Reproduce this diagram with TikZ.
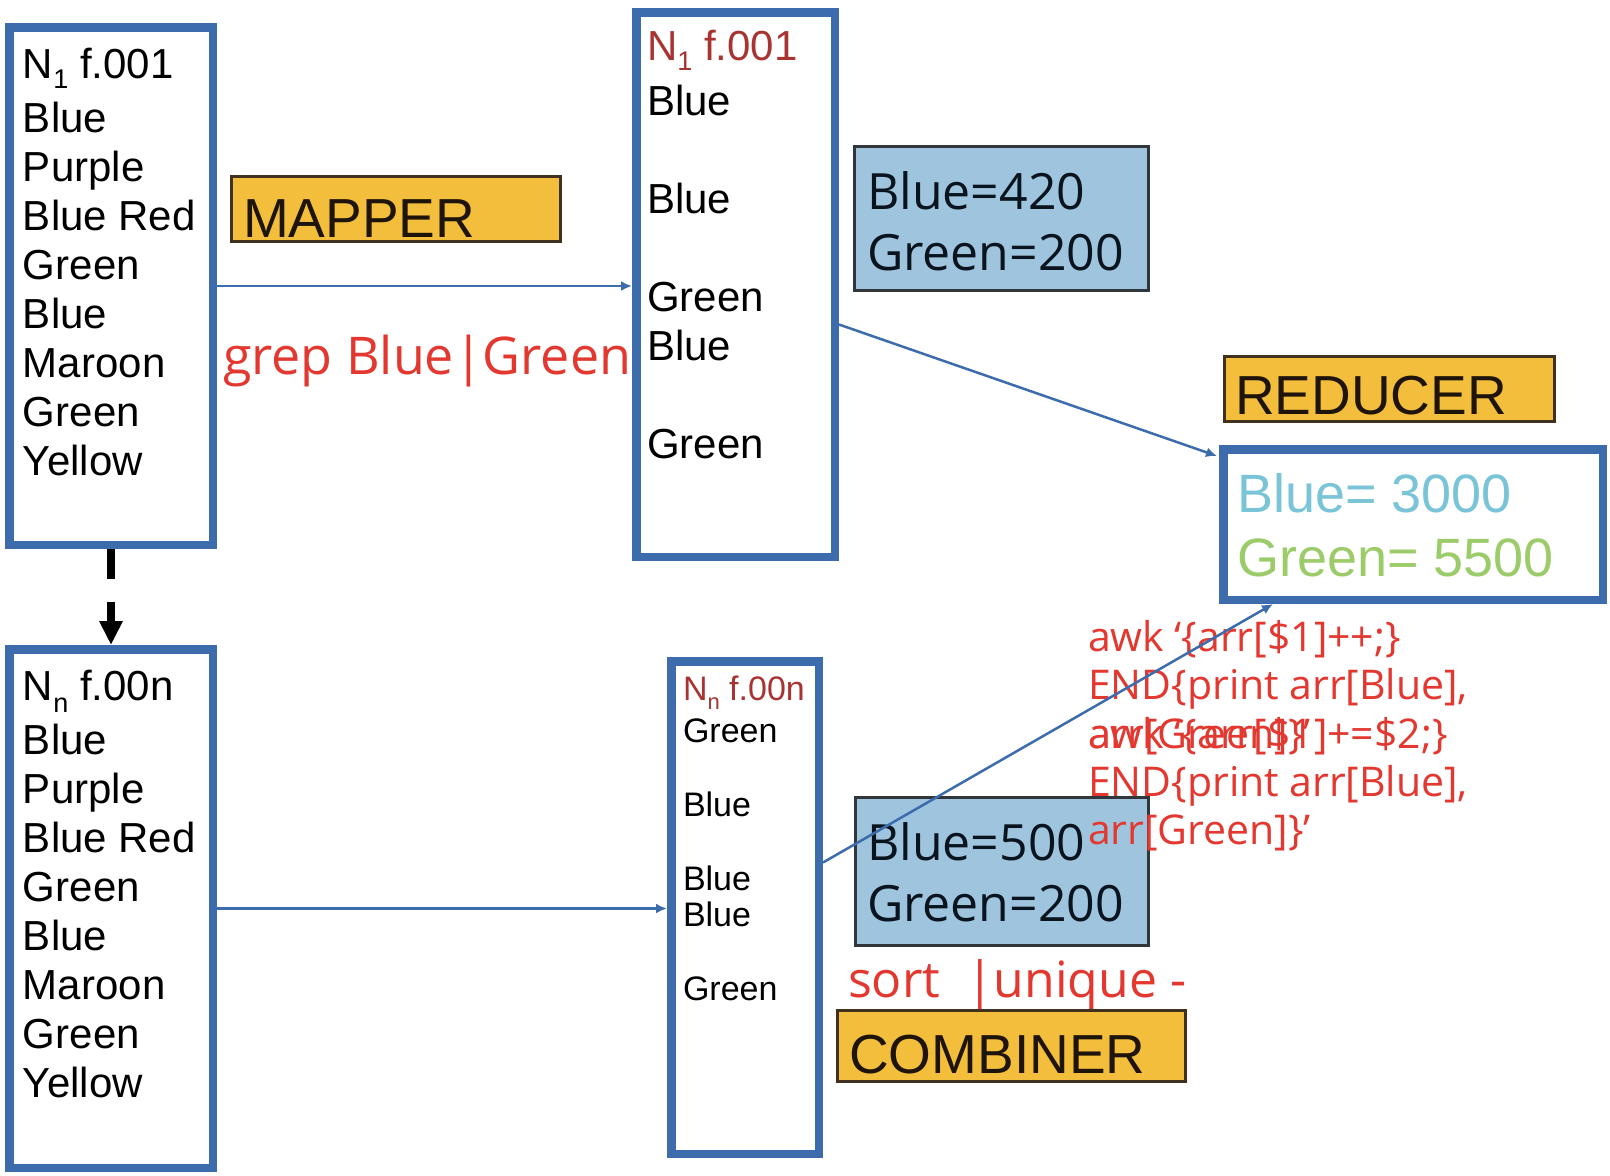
\documentclass[tikz,border=0pt]{standalone}
\usepackage{fontspec}
\setmainfont{Liberation Sans}
\newfontfamily\segoe{Open Sans}
\usetikzlibrary{arrows.meta,calc}

\definecolor{boxblue}{RGB}{60,108,172}
\definecolor{tagfill}{RGB}{242,190,60}
\definecolor{tagdraw}{RGB}{64,48,30}
\definecolor{tagtext}{RGB}{30,20,10}
\definecolor{sumfill}{RGB}{158,196,222}
\definecolor{sumdraw}{RGB}{48,54,60}
\definecolor{sumtext}{RGB}{10,20,30}
\definecolor{cmdred}{RGB}{226,56,48}
\definecolor{hdrred}{RGB}{168,52,50}
\definecolor{bluetxt}{RGB}{122,196,216}
\definecolor{greentxt}{RGB}{156,204,106}

% low, small node index after the N of a split name
\newcommand\nidx[3]{\raisebox{-#2pt}{\fontsize{#1}{#1}\selectfont #3}}

\begin{document}
\begin{tikzpicture}[x=1pt,y=-1pt,
  filebox/.style={draw=boxblue,line width=8.5pt,fill=white,rectangle,inner sep=0pt,outer sep=4.25pt},
  tagbox/.style={draw=tagdraw,line width=3pt,fill=tagfill,rectangle,inner sep=0pt,outer sep=1.5pt},
  sumbox/.style={draw=sumdraw,line width=3pt,fill=sumfill,rectangle,inner sep=0pt,outer sep=1.5pt},
  txt/.style={anchor=base west,inner sep=0pt,outer sep=0pt},
  listtxt/.style={txt,font=\fontsize{42}{49}\selectfont},
  smalltxt/.style={txt,font=\fontsize{34}{37}\selectfont},
  tagtxt/.style={txt,text=tagtext,font=\fontsize{55}{60}\selectfont},
  sumtxt/.style={txt,text=sumtext,font=\segoe\fontsize{50}{60}\selectfont},
  cmdtxt/.style={txt,text=cmdred,font=\segoe\fontsize{50}{60}\selectfont},
  awktxt/.style={txt,text=cmdred,font=\segoe\fontsize{41}{48}\selectfont},
  restxt/.style={txt,font=\fontsize{54}{64}\selectfont},
  flow/.style={draw=boxblue,line width=2.5pt,-{Latex[length=11pt,width=10pt]}}
]
\useasboundingbox (0,0) rectangle (1610,1176);

% command labels that sit under the boxes
\node[cmdtxt,font=\segoe\fontsize{52}{60}\selectfont] (grep) at (223,374) {grep Blue|Green};

% input splits and mapper outputs
\node[filebox,minimum width=203.5pt,minimum height=517.5pt] (A)  at (111,286) {};
\node[filebox,minimum width=203.5pt,minimum height=518.5pt] (A2) at (111,908.5) {};
\node[filebox,minimum width=198.5pt,minimum height=544.5pt] (B)  at (735.5,284.5) {};
\node[filebox,minimum width=147.5pt,minimum height=492.5pt] (C)  at (745,907.5) {};
\node[filebox,minimum width=379.5pt,minimum height=150.5pt] (R)  at (1413,524.5) {};

% stage labels
\node[tagbox,minimum width=329pt,minimum height=65pt] (map) at (396,209) {};
\node[tagbox,minimum width=330pt,minimum height=65pt] (red) at (1389.5,389) {};
\node[tagbox,minimum width=348pt,minimum height=71pt] (comb) at (1011.5,1046) {};
\node[tagtxt] (mapt)  at (243,237)  {MAPPER};
\node[tagtxt] (redt)  at (1235,414) {REDUCER};
\node[tagtxt] (combt) at (849,1073) {COMBINER};

% partial counts
\node[sumbox,minimum width=294pt,minimum height=144pt] (S1) at (1001.5,218.5) {};
\node[sumbox,minimum width=293pt,minimum height=148pt] (S2) at (1002,871.5) {};
\node[sumtxt] (s1a) at (867,209) {Blue=420};
\node[sumtxt] (s1b) at (867,270) {Green=200};
\node[sumtxt] (s2a) at (867,860) {Blue=500};
\node[sumtxt] (s2b) at (867,921) {Green=200};

% contents of the first split
\node[listtxt] (ah) at (23,78) {N\nidx{27}{10}{1} f.001};
\foreach \w [count=\i] in {Blue,Purple,Blue Red,Green,Blue,Maroon,Green,Yellow}
  \node[listtxt,name=a\i] at (23,{132+49*(\i-1)}) {\w};

% contents of the n-th split
\node[listtxt] (a2h) at (23,700) {N\nidx{27}{12}{n} f.00n};
\foreach \w [count=\i] in {Blue,Purple,Blue Red,Green,Blue,Maroon,Green,Yellow}
  \node[listtxt,name=b\i] at (23,{754+49*(\i-1)}) {\w};

% grep output of the first split
\node[listtxt,text=hdrred] (bh) at (647,60) {N\nidx{27}{10}{1} f.001};
\foreach \y/\w [count=\i] in {115/Blue,213/Blue,311/Green,360/Blue,458/Green}
  \node[listtxt,name=c\i] at (647,\y) {\w};

% grep output of the n-th split
\node[smalltxt,text=hdrred] (ch) at (683,700) {N\nidx{22}{9}{n} f.00n};
\foreach \y/\w [count=\i] in {742/Green,816/Blue,890/Blue,926/Blue,1000/Green}
  \node[smalltxt,name=d\i] at (683,\y) {\w};

% final totals
\node[restxt,text=bluetxt]  (r1) at (1237,512) {Blue= 3000};
\node[restxt,text=greentxt] (r2) at (1237,576) {Green= 5500};

% shell commands
\node[cmdtxt] (sortu) at (848,997) {sort\ \ |unique -};
\node[awktxt] (k1) at (1088,651) {awk ‘\{arr[\$1]++;\}};
\node[awktxt] (k2) at (1088,699) {END\{print arr[Blue],};
\node[awktxt] (k3) at (1088,748) {arr[Green]\}’};
\node[awktxt] (k4) at (1088,748) {awk ‘\{arr[\$1]+=\$2;\}};
\node[awktxt] (k5) at (1088,796) {END\{print arr[Blue],};
\node[awktxt] (k6) at (1088,844) {arr[Green]\}’};

% connectors
\draw[line width=8pt,dash pattern=on 30pt off 23pt on 80pt,
      -{Triangle[length=24pt,width=22pt]}] (A.south) -- (A2.north);
\draw[flow] (A.east) -- (A.east -| B.west);
\draw[flow] (A2.east) -- (A2.east -| C.west);
\draw[flow] ($(B.east)+(0,40)$) -- ($(R.north west)+(-2,11)$);
\draw[flow] ($(C.east)+(0,-45)$) -- ($(R.south west)+(54,0)$);
\end{tikzpicture}
\end{document}
